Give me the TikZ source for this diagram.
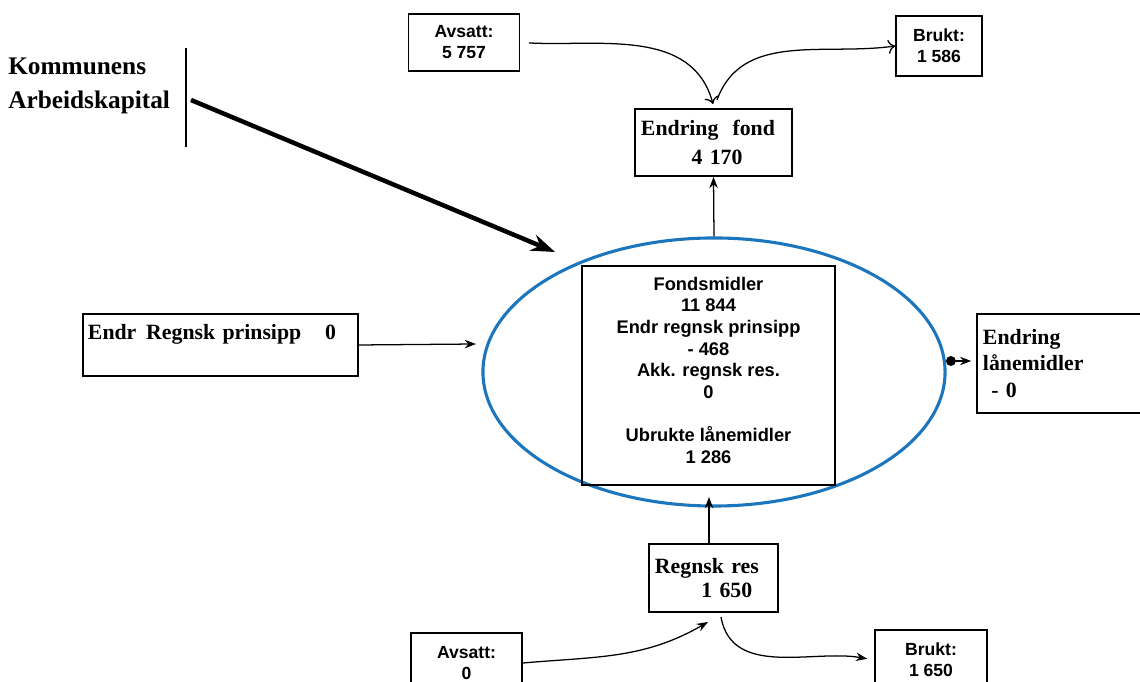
\documentclass[tikz,border=0pt]{standalone}
\usepackage{fontspec}
\setmainfont{Liberation Serif}
\setsansfont{Liberation Sans}
\usetikzlibrary{shapes.geometric,arrows.meta}
\definecolor{ovalblue}{RGB}{28,118,190}
\tikzset{
	boks/.style={draw,line width=1.2pt,inner sep=0pt},
	tall/.style={font=\sffamily\bfseries\fontsize{12.5}{15}\selectfont,align=center},
	tekst/.style={font=\bfseries\fontsize{15.5}{19}\selectfont,align=left},
	pil/.style={-{Stealth[length=8pt,width=6pt]},line width=0.9pt},
	aapen/.style={-{To[length=5pt,width=10pt]},line width=0.9pt},
}
\begin{document}
\begin{tikzpicture}[x=0.025cm,y=0.025cm]
		\useasboundingbox (0,0) rectangle (1140,682);
		\clip (0,0) rectangle (1140,682);
		
		\node[anchor=west,inner sep=0pt,align=left,font=\bfseries\fontsize{18}{24}\selectfont] (kap) at (8,596) {Kommunens\\Arbeidskapital};
		\coordinate (vt) at (186,634);
		\coordinate (vb) at (186,535);
		\coordinate (ks) at (191,582);
		\coordinate (ke) at (555,430);
		
		\node[boks,tall,minimum width=2.775cm,minimum height=1.425cm] (avs1) at (464,639.5) {Avsatt:\\5 757};
		\node[boks,tall,minimum width=2.15cm,minimum height=1.5cm] (brk1) at (939,636) {Brukt:\\1 586};
		\node[boks,tekst,minimum width=3.925cm,minimum height=1.675cm,text width=3.625cm,font=\bfseries\fontsize{15.5}{20}\selectfont] (endfond) at (713.5,539.5) {Endring\hspace{10pt}fond\\\hspace*{36pt}4 170};
		\coordinate (ftip) at (713,578);
		\coordinate (fstart) at (717,582);
		
		\node[ellipse,draw=ovalblue,line width=2.2pt,inner sep=0pt,minimum width=11.55cm,minimum height=6.7cm] (fonds) at (714,310) {};
		\node[boks,tall,minimum width=6.325cm,minimum height=5.475cm,font=\sffamily\bfseries\fontsize{13}{15.4}\selectfont] (saldo) at (708.5,306.5) {Fondsmidler\\11 844\\Endr regnsk prinsipp\\- 468\\Akk. regnsk res.\\0\\[15.4pt]Ubrukte lånemidler\\1 286\\[-8pt]\mbox{}};
		
		\node[boks,tekst,minimum width=6.875cm,minimum height=1.55cm,text width=6.625cm] (endr) at (220.5,337) {Endr\hspace{7pt}Regnsk prinsipp\hspace{17pt}0\\\mbox{}};
		\coordinate (etip) at (476,338);
		
		\node[boks,tekst,minimum width=4.575cm,minimum height=2.475cm,text width=4.275cm,font=\bfseries\fontsize{15.5}{18.8}\selectfont] (laan) at (1068.5,318.5) {Endring\\lånemidler\\\hspace*{6pt}- 0};
		\coordinate (ldot) at (946,321);
		
		\node[boks,tekst,minimum width=3.225cm,minimum height=1.7cm,text width=2.925cm,font=\bfseries\fontsize{15.5}{17}\selectfont] (regnsk) at (713.5,104) {Regnsk res\\\hspace*{33pt}1 650};
		\coordinate (rtip) at (709,185);
		\coordinate (btip) at (708,60);
		\coordinate (bstart) at (721,65);
		
		\node[boks,tall,minimum width=2.775cm,minimum height=1.5cm] (avs2) at (466.5,19) {Avsatt:\\0};
		\node[boks,tall,minimum width=2.8cm,minimum height=1.5cm] (brk2) at (931,22) {Brukt:\\1 650};
		
		\draw[line width=0.9pt] (vt) -- (vb);
		\draw[-{Stealth[length=17pt,width=12pt]},line width=3.2pt] (ks) -- (ke);
		
		\draw[aapen,shorten <=6pt] (avs1.east) to[out=-3,in=105] (ftip);
		\draw[aapen] (fstart) to[out=70,in=188] (brk1.west);
		\draw[pil] (fonds.north) -- (endfond.south);
		\draw[pil] (endr.east) -- (etip);
		\draw[{Circle[length=7pt]}-{Stealth[length=8pt,width=6pt]},line width=0.9pt,shorten >=3.5pt] (ldot) -- (ldot -| laan.west);
		\draw[pil] (regnsk.north -| rtip) -- (rtip);
		\draw[pil] (avs2.east) to[out=5,in=210] (btip);
		\draw[pil,shorten >=5pt] (bstart) to[out=-80,in=170] (brk2.west);
\end{tikzpicture}
\end{document}
